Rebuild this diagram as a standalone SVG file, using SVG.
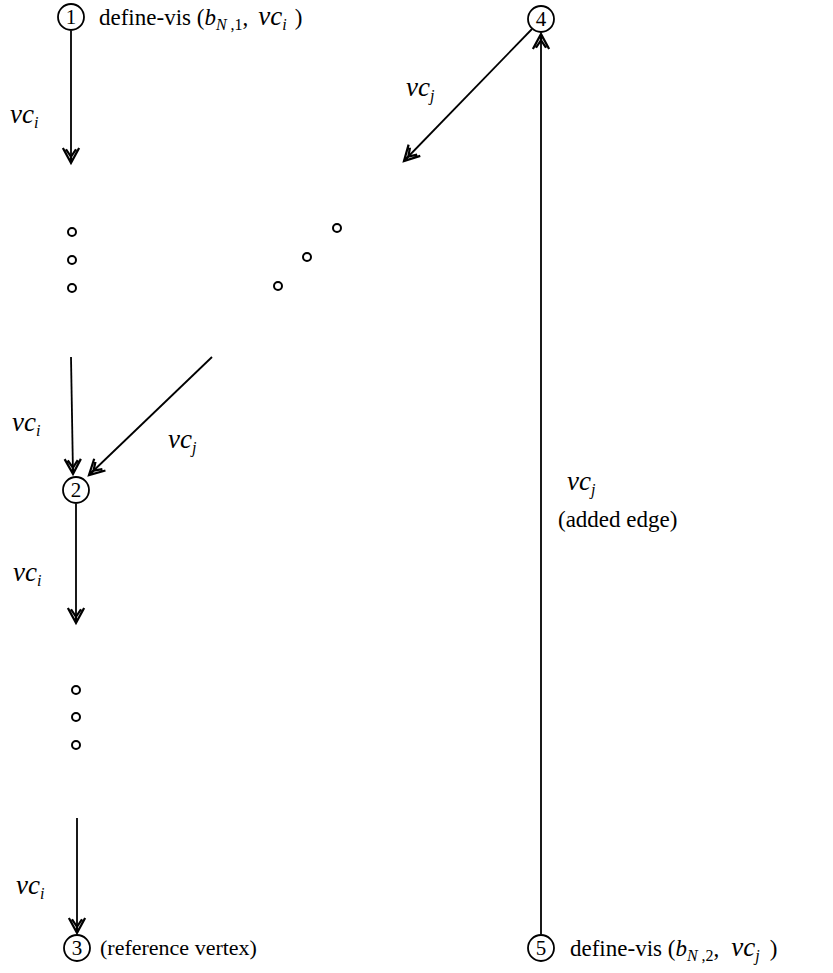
<svg xmlns="http://www.w3.org/2000/svg" width="833" height="973" viewBox="0 0 833 973">
<style>
.t{font-family:"Liberation Serif","Times New Roman",serif;font-size:23px;fill:#000}
.i{font-style:italic}
.v{font-family:"Liberation Serif","Times New Roman",serif;font-size:27px;font-style:italic;fill:#000}
.s{font-size:16px}
.n{font-family:"Liberation Serif","Times New Roman",serif;font-size:21px;fill:#000;text-anchor:middle}
.c{fill:#fff;stroke:#000;stroke-width:1.8}
.e{stroke:#000;stroke-width:1.8;fill:none}
.d{fill:none;stroke:#000;stroke-width:2}
</style>
<defs>
<marker id="ah" markerUnits="userSpaceOnUse" markerWidth="20" markerHeight="20" viewBox="-14 -8 16 16" refX="0" refY="0" orient="auto">
<path d="M-12,-6.5 L0,0 L-12,6.5 M-11,-4 L-5,0 L-11,4 M-5,0 L0,0" fill="none" stroke="#000" stroke-width="1.8"/>
</marker>
</defs>
<g id="connectors">
<line class="e" x1="71" y1="31" x2="71" y2="163" marker-end="url(#ah)"/>
<line class="e" x1="71" y1="357" x2="73" y2="474" marker-end="url(#ah)"/>
<line class="e" x1="212" y1="357" x2="89" y2="475" marker-end="url(#ah)"/>
<line class="e" x1="76" y1="504" x2="76" y2="623" marker-end="url(#ah)"/>
<line class="e" x1="77" y1="818" x2="77" y2="933" marker-end="url(#ah)"/>
<line class="e" x1="532" y1="29" x2="404" y2="161" marker-end="url(#ah)"/>
<line class="e" x1="541" y1="934" x2="541" y2="34" marker-end="url(#ah)"/>
</g>
<g id="dots">
<circle class="d" cx="72" cy="232" r="4"/>
<circle class="d" cx="72" cy="260" r="4"/>
<circle class="d" cx="72" cy="288" r="4"/>
<circle class="d" cx="278" cy="286" r="4"/>
<circle class="d" cx="307" cy="257" r="4"/>
<circle class="d" cx="337" cy="228" r="4"/>
<circle class="d" cx="76" cy="690" r="4"/>
<circle class="d" cx="76" cy="717" r="4"/>
<circle class="d" cx="76" cy="745" r="4"/>
</g>
<g id="node1">
<circle class="c" cx="71" cy="17" r="13"/>
<text class="n" x="71" y="24">1</text>
<text class="t" x="99" y="25">define-vis (<tspan class="i">b</tspan><tspan class="i s" dy="5">N</tspan><tspan class="s"> ,1</tspan><tspan dy="-5">,</tspan><tspan class="i" font-size="27" dx="10">vc</tspan><tspan class="i s" dy="5">i</tspan><tspan dy="-5" dx="8">)</tspan></text>
</g>
<g id="node2">
<circle class="c" cx="76" cy="490" r="13"/>
<text class="n" x="76" y="497">2</text>
</g>
<g id="node3">
<circle class="c" cx="77" cy="948" r="13"/>
<text class="n" x="77" y="955">3</text>
<text class="t" x="100" y="955" style="font-size:22px">(reference vertex)</text>
</g>
<g id="node4">
<circle class="c" cx="541" cy="19" r="13"/>
<text class="n" x="541" y="26">4</text>
</g>
<g id="node5">
<circle class="c" cx="541" cy="948" r="13"/>
<text class="n" x="541" y="955">5</text>
<text class="t" x="570" y="956">define-vis (<tspan class="i">b</tspan><tspan class="i s" dy="5">N</tspan><tspan class="s"> ,2</tspan><tspan dy="-5">,</tspan><tspan class="i" font-size="27" dx="12">vc</tspan><tspan class="i s" dy="5">j</tspan><tspan dy="-5" dx="10">)</tspan></text>
</g>
<g id="labels">
<text class="v" x="10" y="123">vc<tspan class="s" dy="5">i</tspan></text>
<text class="v" x="12" y="431">vc<tspan class="s" dy="5">i</tspan></text>
<text class="v" x="168" y="448">vc<tspan class="s" dy="5">j</tspan></text>
<text class="v" x="13" y="581">vc<tspan class="s" dy="5">i</tspan></text>
<text class="v" x="16" y="894">vc<tspan class="s" dy="5">i</tspan></text>
<text class="v" x="406" y="96">vc<tspan class="s" dy="5">j</tspan></text>
<text class="v" x="567" y="490">vc<tspan class="s" dy="5">j</tspan></text>
<text class="t" x="558" y="527">(added edge)</text>
</g>
</svg>
